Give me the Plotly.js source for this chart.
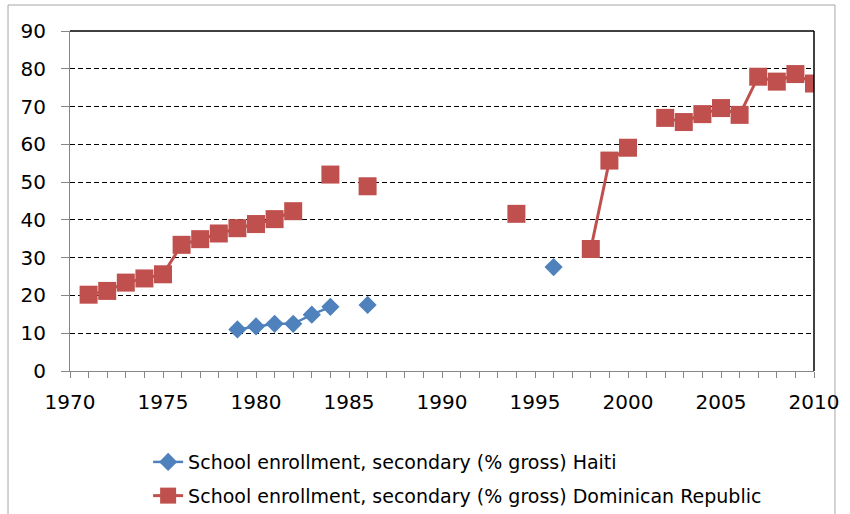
<!DOCTYPE html>
<html>
<head>
<meta charset="utf-8">
<script src="https://cdn.plot.ly/plotly-3.0.1.min.js"></script>
<style>
  html, body { margin: 0; padding: 0; background: #fff; }
  #chart { width: 850px; height: 514px; }
</style>
</head>
<body>
<div id="chart"></div>
<script>
const years = [1971,1972,1973,1974,1975,1976,1977,1978,1979,1980,
               1981,1982,1983,1984,1985,1986,1987,1988,1989,1990,
               1991,1992,1993,1994,1995,1996,1997,1998,1999,2000,
               2001,2002,2003,2004,2005,2006,2007,2008,2009,2010];

const haiti = [null,null,null,null,null,null,null,null,11.0,11.8,
               12.5,12.5,14.9,17.0,null,17.5,null,null,null,null,
               null,null,null,null,null,27.5,null,null,null,null,
               null,null,null,null,null,null,null,null,null,null];

const dominican = [20.2,21.2,23.4,24.5,25.6,33.4,34.9,36.4,37.8,38.9,
                   40.2,42.3,null,52.0,null,48.9,null,null,null,null,
                   null,null,null,41.6,null,null,null,32.3,55.7,59.1,
                   null,67.0,65.9,68.0,69.6,67.8,77.9,76.6,78.6,76.1];

const seriesNames = [
  "School enrollment, secondary (% gross) Haiti",
  "School enrollment, secondary (% gross) Dominican Republic"
];

const FONT = "DejaVu Sans, Arial, sans-serif";

const traces = [
  {
    x: years, y: haiti, name: seriesNames[0], type: "scatter", mode: "lines+markers",
    connectgaps: false, legendgroup: "a", cliponaxis: true,
    line: { color: "#4F81BD", width: 2.5 },
    marker: { symbol: "diamond", size: 14, color: "#4F81BD" }
  },
  {
    x: years, y: dominican, name: seriesNames[1], type: "scatter", mode: "lines+markers",
    connectgaps: false, legendgroup: "b", cliponaxis: true,
    line: { color: "#C0504D", width: 3 },
    marker: { symbol: "square", size: 18, color: "#C0504D" }
  }
];

const layout = {
  width: 850, height: 514,
  margin: { l: 70, r: 36, t: 31, b: 143, autoexpand: false },
  paper_bgcolor: "#fff", plot_bgcolor: "#fff",
  font: { family: FONT, size: 20, color: "#000" },
  showlegend: true,
  legend: {
    orientation: "v", x: 0.105, xanchor: "left",
    yref: "container", y: 0.138, yanchor: "top",
    tracegroupgap: 6, font: { family: FONT, size: 19, color: "#000" },
    bgcolor: "rgba(0,0,0,0)"
  },
  xaxis: {
    range: [1970, 2010], dtick: 5, tick0: 1970, showgrid: false, zeroline: false,
    showline: true, linecolor: "#868686", linewidth: 1,
    ticks: "outside", ticklen: 6, tickcolor: "#868686", ticklabelstandoff: 7,
    minor: { dtick: 1, ticks: "outside", ticklen: 6, tickcolor: "#868686", showgrid: false },
    fixedrange: true
  },
  yaxis: {
    range: [0, 90], dtick: 10, tick0: 0, zeroline: false,
    showgrid: true, gridcolor: "#000", gridwidth: 1, griddash: "5px,3px",
    showline: true, linecolor: "#868686", linewidth: 1,
    ticks: "outside", ticklen: 8, tickcolor: "#868686", ticklabelstandoff: 11,
    fixedrange: true
  },
  shapes: [
    { type: "line", xref: "paper", yref: "paper", x0: 0, x1: 1, y0: 1, y1: 1,
      line: { color: "#000", width: 1.5 } },
    { type: "line", xref: "paper", yref: "paper", x0: 1, x1: 1, y0: 0, y1: 1,
      line: { color: "#000", width: 1.5 } },
    { type: "rect", xref: "paper", yref: "paper", x0: -0.0833, x1: 1.0282, y0: -0.5, y1: 1.0765,
      line: { color: "#A6A6A6", width: 1 }, layer: "below" }
  ]
};

Plotly.newPlot("chart", traces, layout, { displayModeBar: false, staticPlot: true });
</script>
</body>
</html>
